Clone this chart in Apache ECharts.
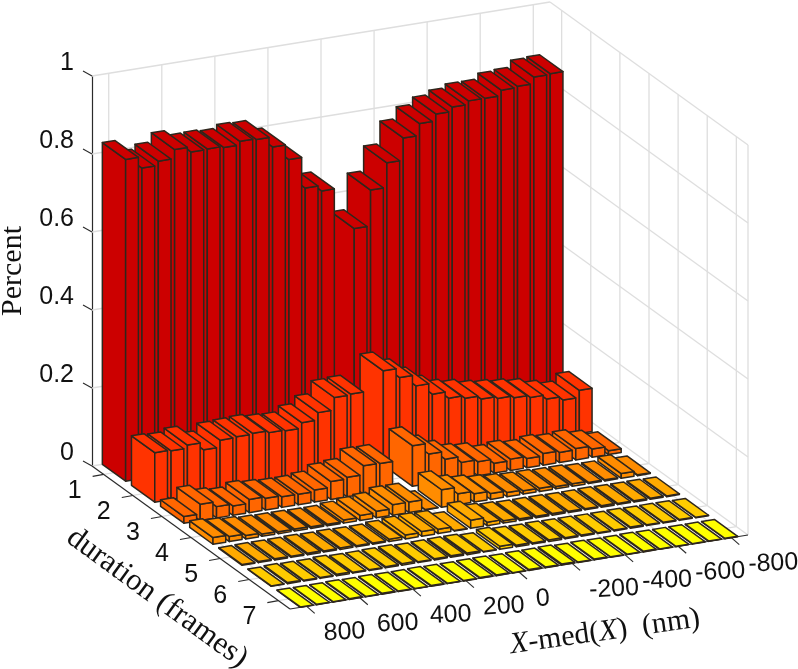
<!DOCTYPE html>
<html><head><meta charset="utf-8">
<style>html,body{margin:0;padding:0;background:#fff}#c{width:798px;height:669px}</style>
<script src="https://cdn.jsdelivr.net/npm/echarts@6/dist/echarts.min.js"></script>
</head><body><div id="c"></div>
<script>
const xTicks=[800,600,400,200,0,-200,-400,-600,-800];
const durations=[1,2,3,4,5,6,7];
const percentTicks=[0,0.2,0.4,0.6,0.8,1];
const binCenters=[800,738.5,676.9,615.4,553.8,492.3,430.8,369.2,307.7,246.2,184.6,123.1,61.5,0,-61.5,-123.1,-184.6,-246.2,-307.7,-369.2,-430.8,-492.3,-553.8,-615.4,-676.9,-738.5,-800];
const row1=[.825,.796,.807,.830,.817,.818,.815,.824,.822,.796,.757,.677,.663,null,.553,.645,.708,.765,.795,.813,.824,.833,.833,.847,.850,.867,.869];
const row2=[.127,.125,.133,.114,.132,.134,.136,.131,.129,.143,.162,.194,.196,null,.242,.218,.190,.162,.145,.138,.129,.124,.119,.113,.102,.093,.111];
const row3=[.017,.042,.029,.024,.034,.030,.027,.027,.031,.046,.050,.073,.072,null,.104,.076,.056,.041,.036,.025,.029,.024,.030,.026,.029,.021,.010];
const row4=[.017,.013,.009,.006,.005,.005,.004,.004,.008,.013,.017,.027,.027,.001,.045,.028,.021,.015,.011,.0085,.008,.006,.006,.003,.003,.012,.002];
const row5=[.002,.003,.003,.003,.004,.003,.004,.003,.003,.006,.010,.012,.011,.001,.021,.009,.006,.004,.004,.004,.003,.003,.004,.003,.003,.003,.002];
const row6=[.001,.003,.002,.002,.004,.002,.002,.003,.004,.002,.003,.004,.004,.001,.008,.004,.003,.004,.003,.003,.002,.002,.003,.002,.002,.002,.001];
const row7=[.001,.001,.001,.002,.001,.002,.001,.001,.002,.001,.001,.002,.002,.001,.002,.002,.003,.001,.002,.001,.001,.002,.001,.001,.001,.001,.001];
const rows=[row1,row2,row3,row4,row5,row6,row7];
const rowColors=['#CC0000','#FF3300','#FF6600','#FF8C00','#FFAA00','#FFCC00','#FFFF00'];

const L=92,T=76,W=458,H=390;
const xMin=-863,xMax=863,dMin=0.6,dMax=7.4;
const dx=198,dy=143,rise=74;
const barHalfX=24,barHalfD=0.4;
const gridColor='#dedede',axisColor='#2b2b2b',textColor='#111';
const tickFont='25px "Liberation Sans"';

function project(api,x,d,z){
  const c=api.coord([x,z]);
  const u=(c[0]-L)/W, t=(d-dMin)/(dMax-dMin);
  return [c[0]+t*dx, c[1]-u*rise+t*dy];
}
function line(a,b,color,w){
  return {type:'line',shape:{x1:a[0],y1:a[1],x2:b[0],y2:b[1]},style:{stroke:color,lineWidth:w},silent:true};
}
function label(x,y,text,align,rot){
  return {type:'text',x:x,y:y,rotation:rot||0,style:{text:text,font:tickFont,fill:textColor,align:align,verticalAlign:'middle'},silent:true};
}
function customBase(name,data,renderItem,z){
  return {type:'custom',name:name,coordinateSystem:'cartesian2d',data:data,renderItem:renderItem,clip:false,silent:true,z:z,animation:false,encode:{x:0,y:1}};
}
const renderX=(params,api)=>{
  const x=api.value(0);
  const a=project(api,x,dMin,0),b=project(api,x,dMin,1),f=project(api,x,dMax,0);
  const t=[f[0]+8,f[1]+7];
  return {type:'group',children:[line(a,b,gridColor,1.3),line(a,f,gridColor,1.3),line(f,t,axisColor,1.1),
    label(f[0]+17,f[1]+27,String(xTicks[params.dataIndex]),'left',0.05)]};
};
const renderD=(params,api)=>{
  const d=api.value(0);
  const back=project(api,xMin,d,0),top=project(api,xMin,d,1),near=project(api,xMax,d,0);
  const t=[near[0]-11,near[1]+2];
  return {type:'group',children:[line(back,top,gridColor,1.3),line(back,near,gridColor,1.3),line(near,t,axisColor,1.1),
    label(near[0]-29,near[1]+16.5,String(durations[params.dataIndex]),'center')]};
};
const renderZ=(params,api)=>{
  const z=api.value(1);
  const a=project(api,xMax,dMin,z),b=project(api,xMin,dMin,z),c=project(api,xMin,dMax,z);
  return {type:'group',children:[line(a,b,gridColor,1.3),line(b,c,gridColor,1.3),line(a,[a[0]-9,a[1]-5],axisColor,1.1)]};
};
const renderFrame=(params,api)=>{
  const l=project(api,xMax,dMin,0),f=project(api,xMax,dMax,0),r=project(api,xMin,dMax,0),rt=project(api,xMin,dMax,1);
  return {type:'group',children:[line(r,rt,gridColor,1.3),line(l,f,axisColor,1.2),line(f,r,axisColor,1.2)]};
};
function renderBar(color){
  return (params,api)=>{
    const x=api.value(0),d=api.value(1),z=api.value(2);
    const xa=x+barHalfX,xb=x-barHalfX,d0=d-barHalfD,d1=d+barHalfD;
    const style={fill:color,stroke:'#2e261c',lineWidth:1.5,lineJoin:'round'};
    const poly=pts=>({type:'polygon',shape:{points:pts},style:style,silent:true});
    return {type:'group',children:[
      poly([project(api,xa,d0,0),project(api,xa,d1,0),project(api,xa,d1,z),project(api,xa,d0,z)]),
      poly([project(api,xa,d1,0),project(api,xb,d1,0),project(api,xb,d1,z),project(api,xa,d1,z)]),
      poly([project(api,xa,d0,z),project(api,xa,d1,z),project(api,xb,d1,z),project(api,xb,d0,z)])
    ]};
  };
}
const barSeries=rows.map((row,r)=>{
  const data=[];
  for(let i=binCenters.length-1;i>=0;i--){ if(row[i]!==null) data.push([binCenters[i],durations[r],row[i]]); }
  return customBase('duration '+durations[r],data,renderBar(rowColors[r]),10+r);
});
const chart=echarts.init(document.getElementById('c'),null,{width:798,height:669});
chart.setOption({
  animation:false,backgroundColor:'#fff',
  grid:{left:L,top:T,width:W,height:H,containLabel:false},
  xAxis:{type:'value',min:xMin,max:xMax,inverse:true,show:false},
  yAxis:{type:'value',min:0,max:1,interval:0.2,position:'left',
    axisLine:{show:true,onZero:false,lineStyle:{color:axisColor,width:1.2}},axisTick:{show:false},splitLine:{show:false},
    axisLabel:{show:true,margin:18,color:textColor,fontFamily:'Liberation Sans',fontSize:25,verticalAlign:'bottom',lineHeight:25,showMinLabel:true,showMaxLabel:true}},
  graphic:[
    {type:'text',x:13,y:271,rotation:Math.PI/2,style:{text:'Percent',font:'30px "Liberation Serif"',fill:textColor,align:'center',verticalAlign:'middle'}},
    {type:'text',x:157,y:598,rotation:-0.63,style:{text:'duration (frames)',font:'31px "Liberation Serif"',fill:textColor,align:'center',verticalAlign:'middle'}},
    {type:'text',x:605,y:632,rotation:0.14,style:{text:'{i|X}-med({i|X})  (nm)',font:'30px "Liberation Serif"',fill:textColor,align:'center',verticalAlign:'middle',rich:{i:{fontStyle:'italic',font:'italic 30px "Liberation Serif"',fill:textColor}}}}
  ],
  series:[
    customBase('x grid',xTicks.map(v=>[v,0]),renderX,1),
    customBase('duration grid',durations.map(v=>[v,0]),renderD,1),
    customBase('percent grid',percentTicks.map(v=>[0,v]),renderZ,1),
    customBase('frame',[[0,0]],renderFrame,2)
  ].concat(barSeries)
});
</script></body></html>
